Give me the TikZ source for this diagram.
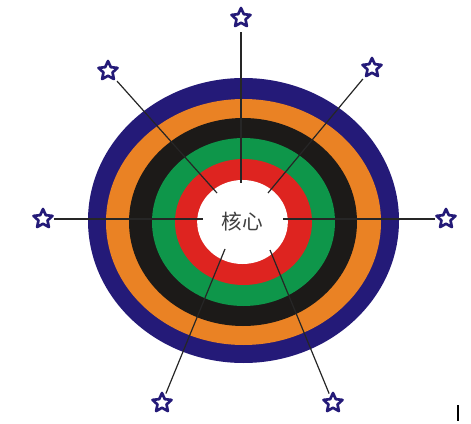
\documentclass[tikz,border=0pt]{standalone}
\usepackage{fontspec}
\newfontfamily\cjk{Noto Sans CJK SC}
\usetikzlibrary{shapes.geometric}
\definecolor{ringnavy}{RGB}{36,26,120}
\definecolor{ringorange}{RGB}{234,130,36}
\definecolor{ringblack}{RGB}{28,26,24}
\definecolor{ringgreen}{RGB}{14,150,74}
\definecolor{ringred}{RGB}{222,36,32}
\tikzset{
  markstar/.style={star, star points=5, star point ratio=2.1, minimum size=15pt,
    inner sep=0pt, draw=ringnavy, line width=2pt, line join=round, fill=white},
  spoke/.style={draw=black!85, line width=0.9pt, shorten <=2pt}
}
\begin{document}
\begin{tikzpicture}[x=0.75pt,y=-0.75pt]
      \useasboundingbox (0,0) rectangle (471,424);
      % rings, outside in
      \fill[ringnavy] (243.5,220.5) ellipse[x radius=155.5, y radius=142.5];
      \fill[ringorange] (243.5,222) ellipse[x radius=137.5, y radius=123];
      \fill[ringblack] (243,222) ellipse[x radius=114, y radius=104];
      \fill[ringgreen] (243.5,222) ellipse[x radius=91.5, y radius=84];
      \fill[ringred] (243.5,222) ellipse[x radius=68.5, y radius=63];
      \node[ellipse, fill=white, inner sep=0pt, minimum width=68pt, minimum height=63pt,
        text=black!75, font=\cjk\fontsize{15.5}{18}\selectfont] (core) at (242.5,222) {核心};
      % inner ends of the spokes
      \coordinate (eN) at (241,183);
      \coordinate (eNW) at (217,193);
      \coordinate (eNE) at (268,193);
      \coordinate (eW) at (203,219);
      \coordinate (eE) at (283,219);
      \coordinate (eSW) at (225,249);
      \coordinate (eSE) at (270,250);
      % stars
      \node[markstar] (sN) at (241,18) {};
      \node[markstar] (sNW) at (108,71) {};
      \node[markstar] (sNE) at (372,68) {};
      \node[markstar] (sW) at (43,219) {};
      \node[markstar] (sE) at (446,219) {};
      \node[markstar] (sSW) at (162,403) {};
      \node[markstar] (sSE) at (333,403) {};
      \draw[spoke, shorten <=6pt] (sN) -- (eN);
      \draw[spoke] (sNW) -- (eNW);
      \draw[spoke] (sNE) -- (eNE);
      \draw[spoke] (sW) -- (eW);
      \draw[spoke] (sE) -- (eE);
      \draw[spoke] (sSW) -- (eSW);
      \draw[spoke] (sSE) -- (eSE);
      \fill[black] (457,405) rectangle (459,421);
\end{tikzpicture}
\end{document}
